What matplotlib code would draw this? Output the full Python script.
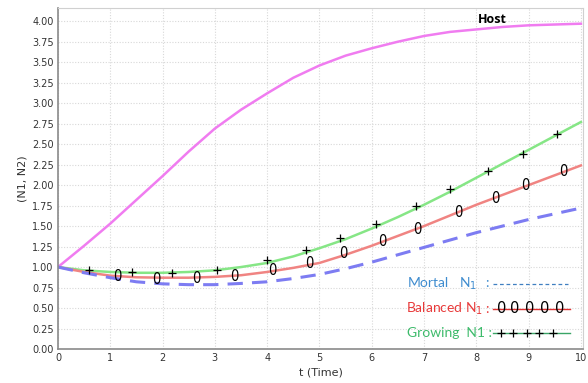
import numpy as np
import matplotlib
matplotlib.use('Agg')
import matplotlib.pyplot as plt

# curves (t step 0.5)
t = [0, 0.5, 1, 1.5, 2, 2.5, 3, 3.5, 4, 4.5, 5, 5.5, 6, 6.5, 7, 7.5, 8, 8.5, 9, 9.5, 10]
host = [1.00, 1.26, 1.53, 1.82, 2.11, 2.41, 2.69, 2.92, 3.12, 3.31, 3.46, 3.58, 3.67, 3.75,
        3.82, 3.87, 3.90, 3.93, 3.95, 3.96, 3.97]
mortal = [1.00, 0.93, 0.87, 0.82, 0.795, 0.785, 0.785, 0.80, 0.82, 0.86, 0.91, 0.98, 1.06,
          1.15, 1.24, 1.33, 1.42, 1.50, 1.58, 1.65, 1.72]
balanced = [1.00, 0.94, 0.895, 0.875, 0.87, 0.87, 0.88, 0.90, 0.94, 0.99, 1.05, 1.15, 1.26,
            1.38, 1.50, 1.63, 1.76, 1.88, 2.00, 2.12, 2.24]
growing = [1.00, 0.96, 0.94, 0.93, 0.93, 0.94, 0.96, 1.00, 1.05, 1.13, 1.23, 1.34, 1.47,
           1.61, 1.76, 1.92, 2.09, 2.26, 2.43, 2.60, 2.77]

# marker symbols drawn over the curves
plus_t = [0.6, 1.42, 2.18, 3.05, 4.0, 4.75, 5.4, 6.09, 6.85, 7.5, 8.22, 8.89, 9.54]
plus_y = [0.96, 0.94, 0.93, 0.97, 1.09, 1.21, 1.36, 1.52, 1.74, 1.95, 2.17, 2.38, 2.62]
zero_t = [1.13, 1.88, 2.65, 3.38, 4.1, 4.8, 5.46, 6.2, 6.88, 7.66, 8.36, 8.93, 9.66]
zero_y = [0.88, 0.85, 0.86, 0.89, 0.96, 1.04, 1.17, 1.31, 1.46, 1.66, 1.84, 1.99, 2.17]

leg_zero_t = [8.49, 8.74, 9.03, 9.31, 9.6]
leg_plus_t = [8.47, 8.71, 8.96, 9.2, 9.46]

yticks = np.arange(0, 4.01, 0.25)
xticks = list(range(0, 11))

fig = plt.figure(figsize=(5.88, 3.83), dpi=100)
ax = fig.add_axes([0.0986, 0.0888, 0.8929, 0.890])

ax.plot(t, host, color='#f07cf0', lw=1.8)
ax.plot(t, growing, color='#86e686', lw=1.8)
ax.plot(t, balanced, color='#f08482', lw=1.8)
ax.plot(t, mortal, color='#7d7cf2', lw=2.2, dashes=(5, 3))

ax.scatter(plus_t, plus_y, marker='+', s=40, color='black', lw=0.9, zorder=5)
for x, y in zip(zero_t, zero_y):
    ax.text(x, y, '0', fontsize=10.5, ha='center', va='center', color='black',
            fontstretch='condensed', zorder=5)

ax.text(8.3, 4.02, 'Host', fontsize=9, fontweight='bold', ha='center', va='center',
        family='Open Sans')

# hand-drawn style legend
lf = dict(fontsize=10, family='Lato', va='center')
ax.text(6.68, 0.80, 'Mortal', color='#3f8ccf', **lf)
ax.text(7.67, 0.80, 'N$_1$', color='#3f8ccf', **lf)
ax.text(8.17, 0.80, ':', color='#3f8ccf', **lf)
ax.plot([8.32, 9.75], [0.795, 0.795], color='#3f7fc0', lw=0.9, dashes=(3, 2.2))

ax.text(6.65, 0.49, 'Balanced N$_1$', color='#e83a3a', **lf)
ax.text(8.17, 0.49, ':', color='#e83a3a', **lf)
ax.plot([8.32, 9.8], [0.49, 0.49], color='#e03030', lw=1.0)
for x in leg_zero_t:
    ax.text(x, 0.49, '0', fontsize=10.5, ha='center', va='center', color='black', zorder=5)

ax.text(6.67, 0.20, 'Growing  N1 :', color='#3dbb6b', **lf)
ax.plot([8.32, 9.8], [0.19, 0.19], color='#3aa566', lw=1.0)
ax.scatter(leg_plus_t, [0.2] * len(leg_plus_t), marker='+', s=40, color='black', lw=0.9, zorder=5)

ax.set_xlim(0, 10.04)
ax.set_ylim(0, 4.16)
ax.set_xticks(xticks)
ax.set_yticks(yticks)
ax.set_yticklabels([f'{v:.2f}' for v in yticks])
ax.tick_params(length=0, labelsize=7, colors='#333333', pad=3)
ax.grid(True, color='#d8d8d8', lw=0.8, ls=(0, (1, 1.5)))
ax.set_axisbelow(True)

for s in ['left', 'bottom']:
    ax.spines[s].set_color('#8a8a8a')
    ax.spines[s].set_linewidth(1.2)
for s in ['top', 'right']:
    ax.spines[s].set_color('#d0d0d0')

ax.set_xlabel('t (Time)', fontsize=8, color='#333333', labelpad=3)
ax.set_ylabel('(N1, N2)', fontsize=8, color='#333333', labelpad=3)

fig.savefig('out.png', dpi=100)
